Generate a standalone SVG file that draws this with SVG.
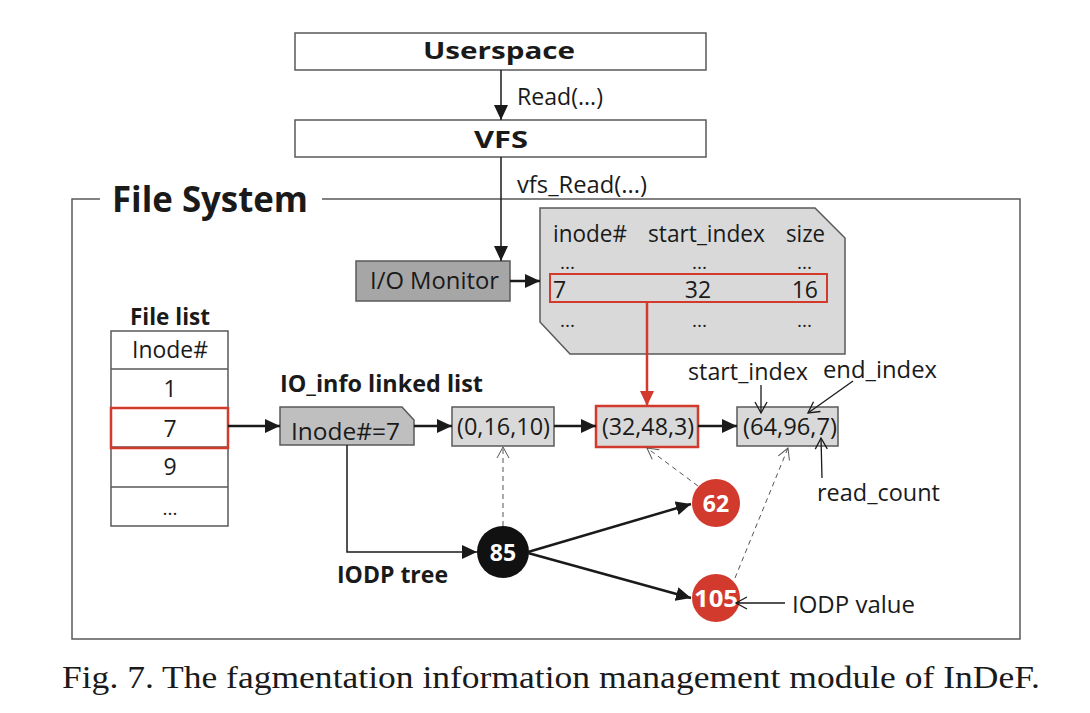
<svg xmlns="http://www.w3.org/2000/svg" width="1090" height="713" viewBox="0 0 1090 713">
<style>
text{font-family:"Open Sans","Noto Sans","DejaVu Sans",sans-serif;fill:#1a1a1a}
.b{font-weight:bold}
.t{font-size:23px}
.d{font-size:19px}
.tb{font-size:24px;font-weight:bold}
.box{fill:#fff;stroke:#595959;stroke-width:1.5}
.ln{fill:none;stroke:#1a1a1a}
.thin{stroke-width:1.5}
.thick{stroke-width:2.5}
.dash{fill:none;stroke:#555;stroke-width:1;stroke-dasharray:5 4}
.open{fill:none;stroke:#1a1a1a;stroke-width:1.3}
.w{fill:#fff;font-weight:bold}
.cap{font-family:"Liberation Serif","Times New Roman",serif;font-size:31px}
</style>
<defs>
<marker id="ah" markerUnits="userSpaceOnUse" markerWidth="16" markerHeight="14" refX="15" refY="7" orient="auto"><path d="M0,0 L15,7 L0,14 z" fill="#1a1a1a"/></marker>
<marker id="ahR" markerUnits="userSpaceOnUse" markerWidth="16" markerHeight="14" refX="15" refY="7" orient="auto"><path d="M0,0 L15,7 L0,14 z" fill="#d23a2e"/></marker>
<marker id="ao" markerUnits="userSpaceOnUse" markerWidth="14" markerHeight="14" refX="12" refY="7" orient="auto"><path d="M1,1 L12,7 L1,13" fill="none" stroke="#1a1a1a" stroke-width="1.3"/></marker>
<marker id="ad" markerUnits="userSpaceOnUse" markerWidth="14" markerHeight="14" refX="12" refY="7" orient="auto"><path d="M1,1 L12,7 L1,13" fill="none" stroke="#555" stroke-width="1"/></marker>
</defs>
<rect width="1090" height="713" fill="#fff"/>

<g id="frame">
<path d="M100,199 L72,199 L72,639 L1020,639 L1020,199 L322,199" fill="none" stroke="#595959" stroke-width="1.5"/>
<text x="112" y="212" class="b" style="font-size:36px" textLength="196" lengthAdjust="spacingAndGlyphs">File System</text>
</g>

<g id="userspace">
<rect x="295" y="33" width="411" height="37" class="box"/>
<text x="423" y="59" class="tb" textLength="152" lengthAdjust="spacingAndGlyphs">Userspace</text>
</g>
<g id="vfs">
<rect x="295" y="120" width="411" height="37" class="box"/>
<text x="474" y="148" class="tb" textLength="54" lengthAdjust="spacingAndGlyphs">VFS</text>
</g>

<g id="io-monitor">
<rect x="356" y="261" width="154" height="40" fill="#a6a6a6" stroke="#595959" stroke-width="1.5"/>
<text x="370" y="289" class="t" textLength="129" lengthAdjust="spacingAndGlyphs">I/O Monitor</text>
</g>

<g id="io-table">
<path d="M540,208 L815,208 L845,238 L845,354 L570,354 L540,322 z" fill="#d9d9d9" stroke="#595959" stroke-width="1.5"/>
<text x="553" y="242" class="t" textLength="74" lengthAdjust="spacingAndGlyphs">inode#</text>
<text x="648" y="242" class="t" textLength="117" lengthAdjust="spacingAndGlyphs">start_index</text>
<text x="786" y="242" class="t" textLength="39" lengthAdjust="spacingAndGlyphs">size</text>
<text x="560" y="269" class="d">...</text>
<text x="692" y="269" class="d">...</text>
<text x="797" y="269" class="d">...</text>
<rect x="550" y="274" width="277" height="28" fill="none" stroke="#d23a2e" stroke-width="2"/>
<text x="553" y="298" class="t">7</text>
<text x="698" y="298" class="t" text-anchor="middle">32</text>
<text x="818" y="298" class="t" text-anchor="end">16</text>
<text x="560" y="327" class="d">...</text>
<text x="692" y="327" class="d">...</text>
<text x="797" y="327" class="d">...</text>
</g>

<g id="file-list">
<text x="170" y="325" class="tb" text-anchor="middle" textLength="80" lengthAdjust="spacingAndGlyphs">File list</text>
<rect x="111" y="331" width="117" height="195" class="box"/>
<path d="M111,369 H228 M111,408 H228 M111,447 H228 M111,487 H228" stroke="#595959" stroke-width="1.5"/>
<text x="170" y="358" class="t" text-anchor="middle" textLength="76" lengthAdjust="spacingAndGlyphs">Inode#</text>
<text x="170" y="397" class="t" text-anchor="middle">1</text>
<rect x="111" y="408" width="117" height="40" fill="none" stroke="#d23a2e" stroke-width="2.5"/>
<text x="170" y="437" class="t" text-anchor="middle">7</text>
<text x="170" y="475" class="t" text-anchor="middle">9</text>
<text x="170" y="515" class="d" text-anchor="middle">...</text>
</g>

<g id="io-info">
<text x="280" y="392" class="tb" textLength="203" lengthAdjust="spacingAndGlyphs">IO_info linked list</text>
<path d="M280,407 L402,407 L414,420 L414,445 L280,445 z" fill="#bfbfbf" stroke="#595959" stroke-width="1.5"/>
<text x="291" y="440" class="t" textLength="109" lengthAdjust="spacingAndGlyphs">Inode#=7</text>
</g>

<g id="node-0-16-10">
<rect x="452" y="407" width="102" height="39" fill="#d9d9d9" stroke="#595959" stroke-width="1.5"/>
<text x="457" y="435" class="t" textLength="93" lengthAdjust="spacingAndGlyphs">(0,16,10)</text>
</g>
<g id="node-32-48-3">
<rect x="596" y="406" width="102" height="41" fill="#d9d9d9" stroke="#d23a2e" stroke-width="2.5"/>
<text x="602" y="435" class="t" textLength="92" lengthAdjust="spacingAndGlyphs">(32,48,3)</text>
</g>
<g id="node-64-96-7">
<rect x="737" y="407" width="101" height="39" fill="#d9d9d9" stroke="#595959" stroke-width="1.5"/>
<text x="743" y="435" class="t" textLength="94" lengthAdjust="spacingAndGlyphs">(64,96,7)</text>
</g>

<g id="labels">
<text x="517" y="105" class="t" textLength="86" lengthAdjust="spacingAndGlyphs">Read(...)</text>
<text x="517" y="193" class="t" textLength="130" lengthAdjust="spacingAndGlyphs">vfs_Read(...)</text>
<text x="688" y="380" class="t" textLength="120" lengthAdjust="spacingAndGlyphs">start_index</text>
<text x="823" y="378" class="t" textLength="114" lengthAdjust="spacingAndGlyphs">end_index</text>
<text x="817" y="501" class="t" textLength="123" lengthAdjust="spacingAndGlyphs">read_count</text>
<text x="337" y="583" class="tb" textLength="111" lengthAdjust="spacingAndGlyphs">IODP tree</text>
<text x="792" y="613" class="t" textLength="123" lengthAdjust="spacingAndGlyphs">IODP value</text>
</g>

<g id="tree-85">
<circle cx="503" cy="552" r="26" fill="#111"/>
<text x="503" y="561" class="w t" text-anchor="middle">85</text>
</g>
<g id="tree-62">
<circle cx="716" cy="503" r="24" fill="#d23a2e"/>
<text x="716" y="512" class="w t" text-anchor="middle">62</text>
</g>
<g id="tree-105">
<circle cx="716" cy="598" r="24" fill="#d23a2e"/>
<text x="716" y="607" class="w t" text-anchor="middle" textLength="44" lengthAdjust="spacingAndGlyphs">105</text>
</g>

<g id="connectors">
<line x1="501" y1="70" x2="501" y2="120" class="ln thin" marker-end="url(#ah)"/>
<line x1="501" y1="157" x2="501" y2="261" class="ln thin" marker-end="url(#ah)"/>
<line x1="510" y1="281" x2="540" y2="281" class="ln thick" marker-end="url(#ah)"/>
<line x1="647" y1="302" x2="647" y2="406" stroke="#d23a2e" stroke-width="2.5" marker-end="url(#ahR)"/>
<line x1="228" y1="426" x2="280" y2="426" class="ln thick" marker-end="url(#ah)"/>
<line x1="414" y1="426" x2="452" y2="426" class="ln thick" marker-end="url(#ah)"/>
<line x1="554" y1="426" x2="596" y2="426" class="ln thick" marker-end="url(#ah)"/>
<line x1="698" y1="426" x2="737" y2="426" class="ln thick" marker-end="url(#ah)"/>
<polyline points="347,445 347,552 477,552" class="ln thin" marker-end="url(#ah)"/>
<line x1="528" y1="552" x2="691" y2="504" class="ln thick" marker-end="url(#ah)"/>
<line x1="528" y1="553" x2="691" y2="598" class="ln thick" marker-end="url(#ah)"/>
<line x1="503" y1="526" x2="503" y2="447" class="dash" marker-end="url(#ad)"/>
<line x1="698" y1="486" x2="647" y2="448" class="dash" marker-end="url(#ad)"/>
<line x1="735" y1="578" x2="788" y2="448" class="dash" marker-end="url(#ad)"/>
<line x1="761" y1="385" x2="761" y2="413" class="open" marker-end="url(#ao)"/>
<line x1="853" y1="381" x2="808" y2="413" class="open" marker-end="url(#ao)"/>
<line x1="822" y1="478" x2="821" y2="438" class="open" marker-end="url(#ao)"/>
<line x1="785" y1="603" x2="736" y2="603" class="open" marker-end="url(#ao)"/>
</g>

<text x="62" y="688" class="cap" textLength="978" lengthAdjust="spacingAndGlyphs">Fig. 7.  The fagmentation information management module of InDeF.</text>
</svg>
